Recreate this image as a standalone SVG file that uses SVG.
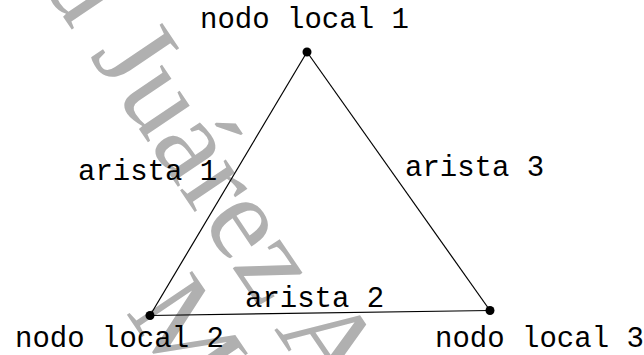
<svg xmlns="http://www.w3.org/2000/svg" width="644" height="355" viewBox="0 0 644 355">
  <style>
    .lbl { font-family: "Liberation Mono", "Courier New", monospace; font-size: 29px; fill: #000; }
    .wm { font-family: "Liberation Serif", "Times New Roman", serif; font-size: 120px; fill: #b0b0b0; }
    .edge { stroke: #000; stroke-width: 1.2; fill: none; }
    .dot { fill: #000; }
  </style>
  <rect width="644" height="355" fill="#fff"/>
  <g id="watermark">
    <text class="wm" transform="translate(39,-19) rotate(56)">d Juárez A</text>
    <text class="wm" transform="translate(125,312) rotate(56)">M</text>
  </g>
  <g id="connectors">
    <line id="arista1" class="edge" x1="307" y1="52" x2="150" y2="315.5"/>
    <line id="arista3" class="edge" x1="307" y1="52" x2="490" y2="310.5"/>
    <line id="arista2" class="edge" x1="150" y1="315.5" x2="490" y2="310.5"/>
  </g>
  <g id="edge-labels">
    <text class="lbl" x="78" y="180">arista 1</text>
    <text class="lbl" x="245" y="307">arista 2</text>
    <text class="lbl" x="405" y="176">arista 3</text>
  </g>
  <g id="nodo1">
    <circle class="dot" cx="307" cy="52" r="4.5"/>
    <text class="lbl" x="200" y="28">nodo local 1</text>
  </g>
  <g id="nodo2">
    <circle class="dot" cx="150" cy="315.5" r="4.5"/>
    <text class="lbl" x="15" y="347">nodo local 2</text>
  </g>
  <g id="nodo3">
    <circle class="dot" cx="490" cy="310.5" r="4.5"/>
    <text class="lbl" x="435" y="347">nodo local 3</text>
  </g>
</svg>
